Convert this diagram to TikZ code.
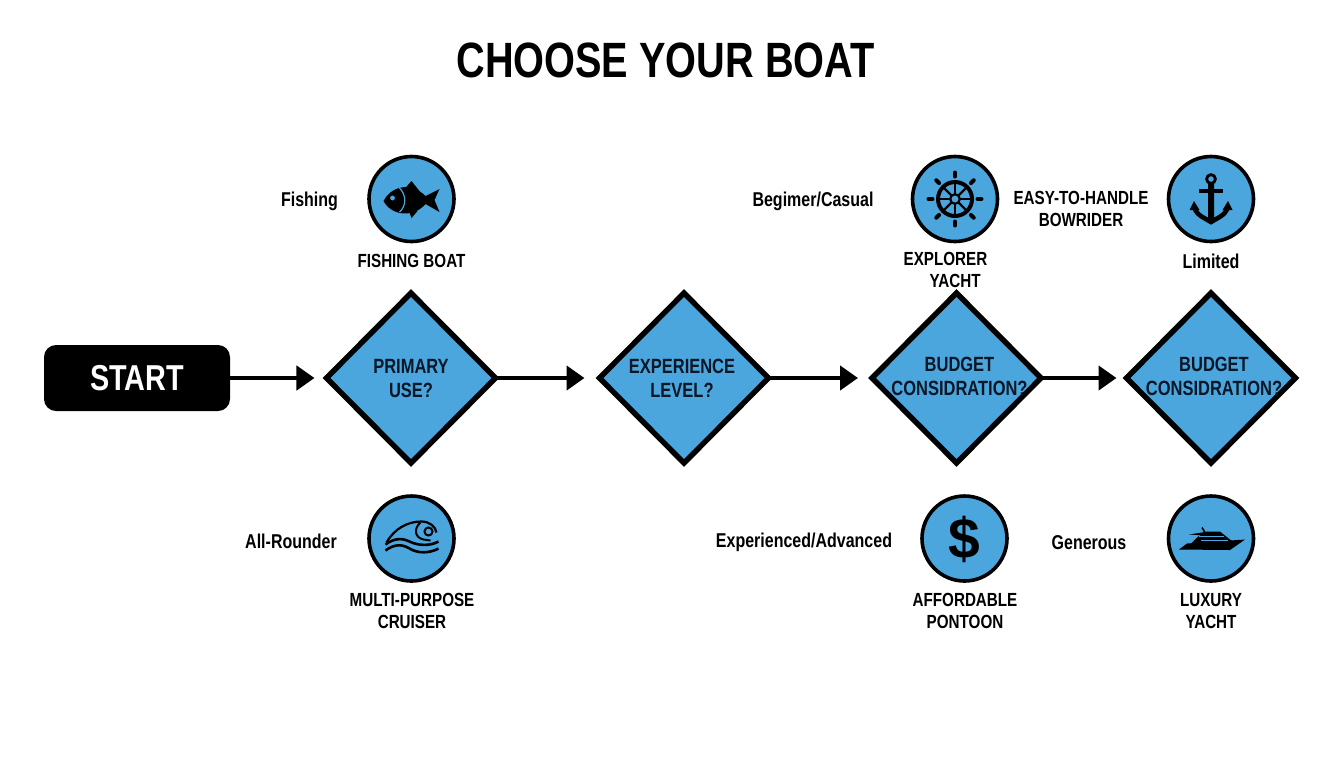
\documentclass[tikz,border=0pt]{standalone}
\usepackage{fontspec}
\usetikzlibrary{shapes.geometric,arrows.meta}
\setmainfont{Liberation Sans}[FakeStretch=0.8]
\newfontfamily\dollarfont{Liberation Sans}
\definecolor{boatblue}{HTML}{4BA6DD}
\definecolor{boatink}{HTML}{0B1626}
\tikzset{
	decision/.style={draw=black, fill=boatblue, diamond, aspect=1, line width=2.7pt, inner sep=0pt, outer sep=0pt, minimum width=84.5pt, minimum height=85pt},
	dectext/.style={align=center, text=boatink, font=\fontsize{10.3}{12}\selectfont\bfseries},
	iconring/.style={draw=black, fill=boatblue, circle, line width=1.8pt, inner sep=0pt, outer sep=0pt, minimum size=42.5pt},
	smalltext/.style={align=center, font=\fontsize{10}{11}\selectfont\bfseries},
	boattext/.style={align=center, font=\fontsize{9.5}{11}\selectfont\bfseries},
	flow/.style={draw=black, line width=2.2pt, -{Triangle[length=9pt,width=12pt]}},
}
\begin{document}
\begin{tikzpicture}[x=0.5pt,y=-0.5pt]
	\useasboundingbox (0,0) rectangle (1344,768);
	\node[font=\fontsize{24.8}{28}\selectfont\bfseries] (title) at (665.5,60) {CHOOSE YOUR BOAT};

	% main row
	\node[fill=black, text=white, rounded corners=6pt, minimum width=93pt, minimum height=33pt, inner sep=0pt, font=\fontsize{18}{20}\selectfont\bfseries] (start) at (137,378) {START};
	\node[decision] (dec1) at (411,378) {};
	\node[decision] (dec2) at (684,378) {};
	\node[decision] (dec3) at (956.5,378) {};
	\node[decision] (dec4) at (1211,378) {};
	\node[dectext] (use) at (411,378.5) {PRIMARY\\USE?};
	\node[dectext] (level) at (682,378) {EXPERIENCE\\LEVEL?};
	\node[dectext] (budgetA) at (959.5,376) {BUDGET\\CONSIDRATION?};
	\node[dectext] (budgetB) at (1214,376) {BUDGET\\CONSIDRATION?};
	\draw[flow, shorten >=6pt] (start) -- (dec1);
	\draw[flow, shorten >=7.5pt] (dec1) -- (dec2);
	\draw[flow, shorten >=7pt] (dec2) -- (dec3);
	\draw[flow, shorten >=5pt] (dec3) -- (dec4);

	% icon circles
	\node[iconring] (fish) at (411.5,199) {};
	\node[iconring] (wheel) at (955,199) {};
	\node[iconring] (anchor) at (1211,199) {};
	\node[iconring] (wave) at (411.5,538.5) {};
	\node[iconring] (money) at (964.5,538.5) {};
	\node[iconring] (yacht) at (1211,538.5) {};

	% labels
	\node[smalltext] (lfish) at (309.5,201.5) {Fishing};
	\node[boattext] (bfish) at (411.5,261) {FISHING BOAT};
	\node[smalltext] (lcasual) at (813,201.5) {Begimer/Casual};
	\node[boattext, align=left] (bexplorer) at (945.5,270) {EXPLORER\\\hspace*{13pt}YACHT};
	\node[boattext] (bbowrider) at (1081,208.5) {EASY-TO-HANDLE\\BOWRIDER};
	\node[smalltext] (llimited) at (1211,261) {Limited};
	\node[smalltext] (lrounder) at (291,541) {All-Rounder};
	\node[boattext] (bcruiser) at (412,610.5) {MULTI-PURPOSE\\CRUISER};
	\node[smalltext] (ladvanced) at (804,542.5) {Experienced/Advanced};
	\node[boattext] (bpontoon) at (965,610.5) {AFFORDABLE\\PONTOON};
	\node[smalltext] (lgenerous) at (1089,542.5) {Generous};
	\node[boattext] (bluxury) at (1211,611.5) {LUXURY\\YACHT};

	% fish
	\begin{scope}[shift={(fish)}]
		\fill (-28,2) .. controls (-22,-11) and (-2,-19) .. (14,-3) -- (28,-10) -- (23,1) -- (28,13) -- (14,5) .. controls (2,19) and (-20,17) .. (-28,2) -- cycle;
		\fill (-7,-10) -- (0,-18) -- (8,-8) -- cycle;
		\fill (-3,11) -- (0,19) -- (6,12) -- cycle;
		\fill[boatblue] (-19,-1) circle (1.2pt);
		\draw[boatblue, line width=0.6pt] (-12,-11) .. controls (-5,-4) and (-5,7) .. (-12,13);
	\end{scope}

	% wheel
	\begin{scope}[shift={(wheel)}]
		\foreach \a in {0,45,...,315} {
			\draw[line width=1.2pt] (\a:4) -- (\a:17);
			\draw[line width=2pt, line cap=round] (\a:22.5) -- (\a:26.5);
		}
		\draw[line width=2pt] (0,0) circle (8.5pt);
		\draw[line width=1.1pt, fill=boatblue] (0,0) circle (2.4pt);
	\end{scope}

	% anchor
	\begin{scope}[shift={(anchor)}]
		\draw[line width=1.4pt] (0,-20) circle (2.2pt);
		\draw[line width=1.8pt] (-12,-8) -- (12,-8);
		\fill (-3,-15) -- (3,-15) -- (3,20) -- (0,25) -- (-3,20) -- cycle;
		\draw[line width=2.3pt] (-17,8) .. controls (-14,17) and (-6,19) .. (0,23) .. controls (6,19) and (14,17) .. (17,8);
		\fill (-21.5,11) -- (-17,2) -- (-11.5,11) -- cycle;
		\fill (21.5,11) -- (17,2) -- (11.5,11) -- cycle;
	\end{scope}

	% wave
	\begin{scope}[shift={(wave)}]
		\draw[line width=1.1pt] (-25,4) .. controls (-17,-10) and (-4,-17) .. (10,-17) .. controls (18,-17) and (24,-12) .. (25,-6);
		\draw[line width=1pt] (9,-16) .. controls (2,-10) and (3,-1) .. (12,1) -- (19,2);
		\draw[line width=1pt] (17,-7) circle (2pt);
		\draw[line width=1.3pt] (-26,6) .. controls (-18,0) and (-10,-1) .. (-2,3) .. controls (6,7) and (18,8) .. (27,3);
		\draw[line width=1.3pt] (-26,12) .. controls (-18,6) and (-10,5) .. (-2,10) .. controls (6,15) and (18,15) .. (27,10);
	\end{scope}

	% dollar
	\node[font=\dollarfont\fontsize{28.5}{28.5}\selectfont\bfseries, inner sep=0pt] (dollar) at (964,539) {\$};

	% yacht
	\begin{scope}[shift={(yacht)}]
		\fill (-32,11) -- (-24,5) -- (34,1) -- (19,11.5) -- cycle;
		\fill (-20,5) -- (-13,-2) -- (-3,-7) -- (9,-7) -- (19,1) -- (22,3) -- cycle;
		\fill (-22,-4) -- (-3,-7) -- (-6,-3) -- cycle;
		\draw[line width=0.8pt] (-9,-11) -- (-6,-6);
		\draw[boatblue, line width=0.4pt] (-12,-2) -- (13,-2);
		\draw[boatblue, line width=0.4pt] (-10,2) -- (17,2);
	\end{scope}
\end{tikzpicture}
\end{document}
